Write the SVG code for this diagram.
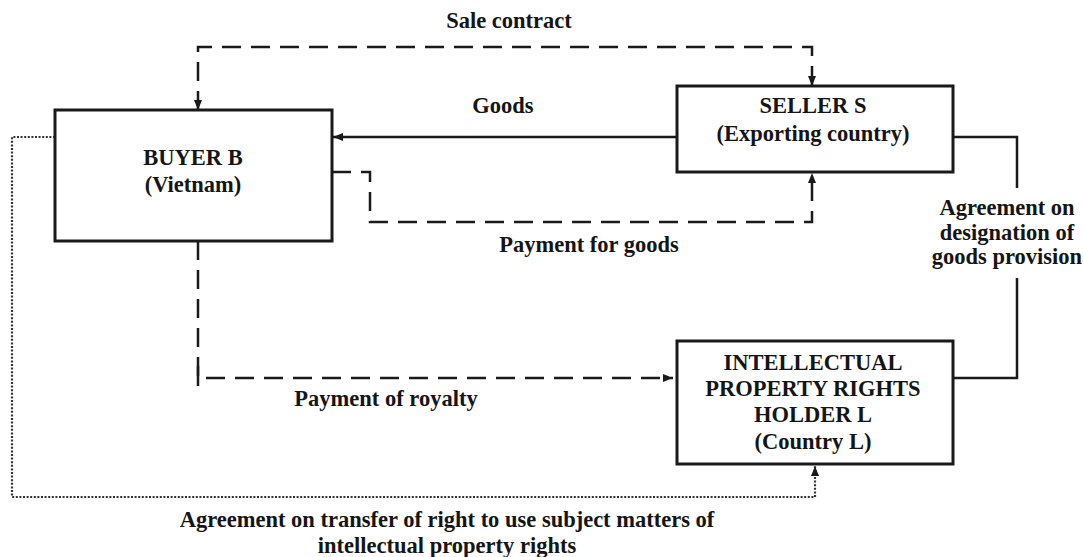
<svg xmlns="http://www.w3.org/2000/svg" width="1084" height="557" viewBox="0 0 1084 557">
<defs>
<style>
text{font-family:"Liberation Serif","Times New Roman",serif;font-weight:bold;font-size:22.5px;fill:#151515;text-anchor:middle}
.box{fill:#fff;stroke:#1a1a1a;stroke-width:3}
.ln{fill:none;stroke:#1a1a1a;stroke-width:2.5}
.dash{stroke-dasharray:19 10}
.dot{fill:none;stroke:#333;stroke-width:2.2;stroke-dasharray:2 1.6}
</style>
<marker id="ah" viewBox="0 0 10 10" refX="10" refY="5" markerWidth="10" markerHeight="10" markerUnits="userSpaceOnUse" orient="auto-start-reverse">
<path d="M0,1 L10,5 L0,9 Z" fill="#1a1a1a"/>
</marker>
</defs>
<g id="connectors">
<path class="ln dash" d="M198,110 V47 H812 V86" marker-start="url(#ah)" marker-end="url(#ah)"/>
<path class="ln" d="M677,137 H333" marker-end="url(#ah)"/>
<path class="ln dash" d="M332,172 H370 V222 H812 V173" marker-end="url(#ah)"/>
<path class="ln" d="M953,137 H1017 V188"/>
<path class="ln" d="M1017,278 V378 H953"/>
<path class="ln dash" d="M198,241 V378 H673" marker-end="url(#ah)"/>
<path class="ln" d="M198,366 V386"/>
<path class="dot" d="M55,137 H12 V497 H815 V466" marker-end="url(#ah)"/>
<text x="509" y="28">Sale contract</text>
<text x="503" y="113">Goods</text>
<text x="589" y="252">Payment for goods</text>
<text x="1007" y="215">Agreement on</text>
<text x="1007" y="240">designation of</text>
<text x="1007" y="264">goods provision</text>
<text x="386" y="406">Payment of royalty</text>
<text x="447" y="527">Agreement on transfer of right to use subject matters of</text>
<text x="447" y="553">intellectual property rights</text>
</g>
<g id="buyer">
<rect class="box" x="55" y="110" width="277" height="131"/>
<text x="193" y="165">BUYER B</text>
<text x="193" y="192">(Vietnam)</text>
</g>
<g id="seller">
<rect class="box" x="677" y="86" width="276" height="86"/>
<text x="813" y="113">SELLER S</text>
<text x="813" y="141">(Exporting country)</text>
</g>
<g id="ipholder">
<rect class="box" x="677" y="341" width="276" height="123"/>
<text x="813" y="370">INTELLECTUAL</text>
<text x="813" y="396">PROPERTY RIGHTS</text>
<text x="813" y="422">HOLDER L</text>
<text x="813" y="449">(Country L)</text>
</g>
</svg>
